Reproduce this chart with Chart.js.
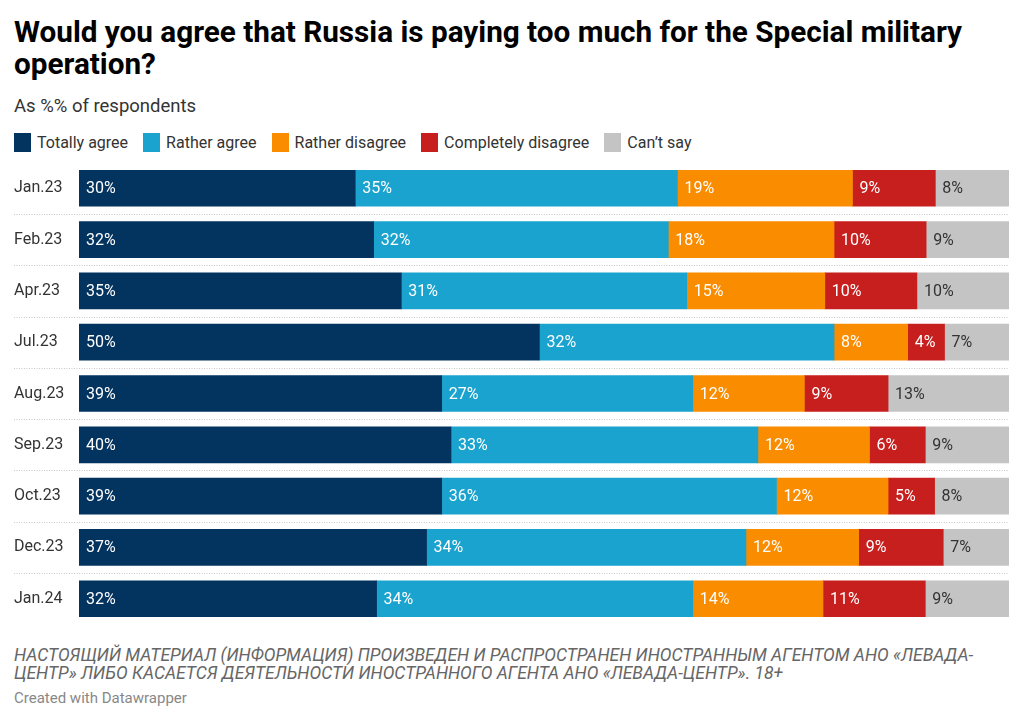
<!DOCTYPE html>
<html>
<head>
<meta charset="utf-8">
<script src="https://cdn.jsdelivr.net/npm/chart.js@4"></script>
<style>
  body { margin: 0; width: 1024px; height: 721px; background: #fff; font-family: Roboto, sans-serif; position: relative; overflow: hidden; }
  h1 { position: absolute; left: 14px; top: 16px; margin: 0; width: 1000px; font-size: 29.7px; line-height: 32px; font-weight: 700; color: #000; }
  .sub { position: absolute; left: 14px; top: 95px; font-size: 18.5px; color: #333; }
  .legend { position: absolute; left: 14px; top: 133px; display: flex; font-size: 16px; color: #333; }
  .legend span { display: flex; align-items: center; margin-right: 15px; }
  .legend i { display: inline-block; width: 17px; height: 19px; margin-right: 6px; }
  #wrap { position: absolute; left: 0; top: 153px; width: 1024px; height: 481px; }
  .note { position: absolute; left: 14px; top: 646px; width: 1000px; font-size: 17.5px; line-height: 18px; font-style: italic; color: #666; }
  .credit { position: absolute; left: 14px; top: 689px; font-size: 15px; color: #888; }
</style>
</head>
<body>
<h1>Would you agree that Russia is paying too much for the Special military<br>operation?</h1>
<div class="sub">As %% of respondents</div>
<div class="legend" id="legend"></div>
<div id="wrap"><canvas id="chart"></canvas></div>
<div class="note">НАСТОЯЩИЙ МАТЕРИАЛ (ИНФОРМАЦИЯ) ПРОИЗВЕДЕН И РАСПРОСТРАНЕН ИНОСТРАННЫМ АГЕНТОМ АНО «ЛЕВАДА-<br>ЦЕНТР» ЛИБО КАСАЕТСЯ ДЕЯТЕЛЬНОСТИ ИНОСТРАННОГО АГЕНТА АНО «ЛЕВАДА-ЦЕНТР». 18+</div>
<div class="credit">Created with Datawrapper</div>
<script>
// ── Data ──
const MONTHS = ["Jan.23", "Feb.23", "Apr.23", "Jul.23", "Aug.23", "Sep.23", "Oct.23", "Dec.23", "Jan.24"];
const TOTALLY_AGREE = [30, 32, 35, 50, 39, 40, 39, 37, 32];
const RATHER_AGREE = [35, 32, 31, 32, 27, 33, 36, 34, 34];
const RATHER_DISAGREE = [19, 18, 15, 8, 12, 12, 12, 12, 14];
const COMPLETELY_DISAGREE = [9, 10, 10, 4, 9, 6, 5, 9, 11];
const CANT_SAY = [8, 9, 10, 7, 13, 9, 8, 7, 9];

const SERIES = [
  { name: "Totally agree", values: TOTALLY_AGREE, color: "#03335f", text: "#fff" },
  { name: "Rather agree", values: RATHER_AGREE, color: "#1aa3ce", text: "#fff" },
  { name: "Rather disagree", values: RATHER_DISAGREE, color: "#fa8c00", text: "#fff" },
  { name: "Completely disagree", values: COMPLETELY_DISAGREE, color: "#c71e1e", text: "#fff" },
  { name: "Can’t say", values: CANT_SAY, color: "#c4c4c4", text: "#333" },
];

// ── Legend ──
const legendEl = document.getElementById("legend");
SERIES.forEach((s) => {
  const el = document.createElement("span");
  el.innerHTML = `<i style="background:${s.color}"></i>${s.name}`;
  legendEl.appendChild(el);
});

// rows are scaled to fill the full width (sums are 99–101)
const rowTotals = MONTHS.map((_, i) => SERIES.reduce((a, s) => a + s.values[i], 0));

const barLabels = {
  id: "barLabels",
  afterDatasetsDraw(chart) {
    const ctx = chart.ctx;
    ctx.save();
    ctx.font = "16px Roboto";
    ctx.textBaseline = "middle";
    chart.data.datasets.forEach((ds, di) => {
      chart.getDatasetMeta(di).data.forEach((bar, i) => {
        const p = bar.getProps(["x", "y", "base"], true);
        ctx.fillStyle = SERIES[di].text;
        ctx.fillText(SERIES[di].values[i] + "%", Math.min(p.x, p.base) + 7, p.y + 1);
      });
    });
    ctx.restore();
  },
};

const rowLines = {
  id: "rowLines",
  beforeDatasetsDraw(chart) {
    const ctx = chart.ctx;
    const y = chart.scales.y;
    ctx.save();
    ctx.strokeStyle = "#c8c8c8";
    ctx.lineWidth = 1;
    ctx.setLineDash([1, 1.5]);
    for (let i = 0; i < MONTHS.length - 1; i++) {
      const yy = Math.round((y.getPixelForTick(i) + y.getPixelForTick(i + 1)) / 2) + 0.5;
      ctx.beginPath();
      ctx.moveTo(14, yy);
      ctx.lineTo(chart.chartArea.right, yy);
      ctx.stroke();
    }
    ctx.restore();
  },
};

new Chart(document.getElementById("chart"), {
  type: "bar",
  data: {
    labels: MONTHS,
    datasets: SERIES.map((s) => ({
      label: s.name,
      data: s.values.map((v, i) => (v / rowTotals[i]) * 100),
      backgroundColor: s.color,
      borderWidth: 0,
      barThickness: 36,
    })),
  },
  options: {
    indexAxis: "y",
    responsive: true,
    maintainAspectRatio: false,
    animation: false,
    layout: { padding: { left: 14, right: 15, top: 0, bottom: 0 } },
    plugins: { legend: { display: false }, tooltip: { enabled: false } },
    scales: {
      x: { stacked: true, display: false, min: 0, max: 100 },
      y: {
        stacked: true,
        grid: { display: false },
        border: { display: false },
        afterFit: (scale) => { scale.width = 65; },
        ticks: {
          crossAlign: "far",
          padding: 0,
          color: "#333",
          font: { family: "Roboto", size: 16 },
        },
      },
    },
  },
  plugins: [rowLines, barLabels],
});
</script>
</body>
</html>
